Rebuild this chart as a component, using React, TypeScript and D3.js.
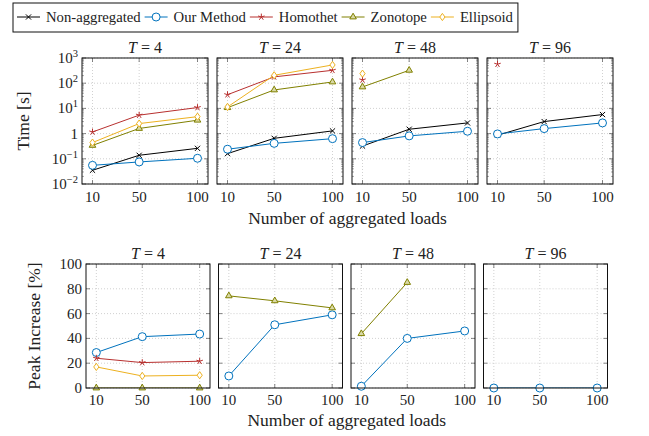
import React, { useEffect, useRef } from "react";
import * as d3 from "d3";

// x values (number of aggregated loads) and horizons
const loads = [10, 50, 100];
const horizons = [4, 24, 48, 96];

// computation time [s], one row per horizon T, null = no result
const timeNonAgg = [[0.035, 0.138, 0.26], [0.16, 0.65, 1.28], [0.32, 1.49, 2.65], [0.86, 3.0, 5.7]];
const timeOurs = [[0.055, 0.075, 0.105], [0.24, 0.41, 0.63], [0.44, 0.81, 1.24], [0.97, 1.58, 2.65]];
const timeHomothet = [[1.16, 5.4, 10.8], [35, 178, 325], [135, null, null], [565, null, null]];
const timeZonotope = [[0.34, 1.6, 3.4], [10.7, 54, 112], [71, 325, null], [null, null, null]];
const timeEllipsoid = [[0.44, 2.5, 4.7], [11.4, 206, 530], [240, null, null], [null, null, null]];

// peak increase [%]
const peakNonAgg = [[null, null, null], [null, null, null], [null, null, null], [null, null, null]];
const peakOurs = [[28.6, 41.4, 43.5], [9.7, 51, 59], [1.4, 40, 46], [0, 0, 0]];
const peakHomothet = [[24, 20.5, 21.6], [null, null, null], [null, null, null], [null, null, null]];
const peakZonotope = [[0, 0, 0], [74.3, 70.3, 64.6], [43.8, 85.1, null], [null, null, null]];
const peakEllipsoid = [[17, 9.7, 10.3], [null, null, null], [null, null, null], [null, null, null]];

const timeTickExp = [-2, -1, 0, 1, 2, 3];
const peakTicks = [0, 20, 40, 60, 80, 100];

const methods = ["Non-aggregated", "Our Method", "Homothet", "Zonotope", "Ellipsoid"];
const colors = ["#000000", "#0072BD", "#B8302F", "#808000", "#EDB120"];
const marks = ["cross", "circle", "star", "triangle", "diamond"];
const timeData = [timeNonAgg, timeOurs, timeHomothet, timeZonotope, timeEllipsoid];
const peakData = [peakNonAgg, peakOurs, peakHomothet, peakZonotope, peakEllipsoid];

const FONT = "Liberation Serif, Tinos, Times New Roman, Times, DejaVu Serif, Noto Serif, serif";
const GRID = "#bdbdbd";
const TICK = "#555";

type Sel = d3.Selection<SVGGElement, unknown, null, undefined>;

function drawMark(g: Sel, kind: string, cx: number, cy: number, color: string) {
  if (kind === "cross") {
    g.append("path").attr("d", `M${cx - 2.6},${cy - 2.6}L${cx + 2.6},${cy + 2.6}M${cx - 2.6},${cy + 2.6}L${cx + 2.6},${cy - 2.6}`)
      .attr("stroke", color).attr("stroke-width", 1);
  } else if (kind === "circle") {
    g.append("circle").attr("cx", cx).attr("cy", cy).attr("r", 4)
      .attr("fill", "white").attr("stroke", color).attr("stroke-width", 1);
  } else if (kind === "star") {
    let d = "";
    for (let i = 0; i < 5; i++) {
      const a = -Math.PI / 2 + (i * 2 * Math.PI) / 5;
      d += `M${cx},${cy}L${cx + 3.4 * Math.cos(a)},${cy + 3.4 * Math.sin(a)}`;
    }
    g.append("path").attr("d", d).attr("stroke", color).attr("stroke-width", 1);
  } else if (kind === "triangle") {
    const r = 3.8;
    g.append("path")
      .attr("d", `M${cx},${cy - r}L${cx + r * 0.866},${cy + r / 2}L${cx - r * 0.866},${cy + r / 2}Z`)
      .attr("fill", "#d9d9a6").attr("stroke", color).attr("stroke-width", 1);
  } else {
    g.append("path").attr("d", `M${cx},${cy - 3.6}L${cx + 2.6},${cy}L${cx},${cy + 3.6}L${cx - 2.6},${cy}Z`)
      .attr("fill", "white").attr("stroke", color).attr("stroke-width", 1);
  }
}

function addTitle(g: Sel, cx: number, y: number, t: number) {
  const txt = g.append("text").attr("x", cx).attr("y", y).attr("text-anchor", "middle")
    .attr("font-size", 16).attr("fill", "#222");
  txt.append("tspan").attr("font-style", "italic").text("T");
  txt.append("tspan").attr("dx", 4).text("=");
  txt.append("tspan").attr("dx", 4).text(String(t));
}

export default function App() {
  const ref = useRef<SVGSVGElement>(null);

  useEffect(() => {
    const svg = d3.select(ref.current);
    svg.selectAll("*").remove();
    const root = svg.append("g").attr("font-family", FONT) as unknown as Sel;

    const rows = [
      { kind: "time", left: 82, step: 135, w: 126, top: 58, bottom: 184, tickOff: 18, titleOff: 40, labelX: 29, data: timeData },
      { kind: "peak", left: 86, step: 132.5, w: 124, top: 264, bottom: 388, tickOff: 16.5, titleOff: 38, labelX: 40, data: peakData },
    ];

    rows.forEach((row, ri) => {
      const y = row.kind === "time"
        ? d3.scaleLog().domain([1e-2, 1e3]).range([row.bottom, row.top])
        : d3.scaleLinear().domain([0, 100]).range([row.bottom, row.top]);
      const majors = row.kind === "time" ? timeTickExp.map((e) => Math.pow(10, e)) : peakTicks;
      const minors: number[] = [];
      if (row.kind === "time") {
        for (let e = -2; e < 3; e++) for (let k = 2; k <= 9; k++) minors.push(k * Math.pow(10, e));
      }

      horizons.forEach((T, hi) => {
        const x0 = row.left + hi * row.step;
        const x = d3.scaleLinear().domain([1, 109]).range([x0, x0 + row.w]);
        const g = root.append("g");
        const clipId = `clip-${ri}-${hi}`;
        g.append("clipPath").attr("id", clipId).append("rect")
          .attr("x", x0).attr("y", row.top).attr("width", row.w).attr("height", row.bottom - row.top);

        // grid
        loads.forEach((v) => {
          g.append("line").attr("x1", x(v)).attr("x2", x(v)).attr("y1", row.top).attr("y2", row.bottom)
            .attr("stroke", GRID).attr("stroke-width", 0.7).attr("stroke-dasharray", "1,2");
        });
        majors.forEach((v) => {
          g.append("line").attr("x1", x0).attr("x2", x0 + row.w).attr("y1", y(v)).attr("y2", y(v))
            .attr("stroke", GRID).attr("stroke-width", 0.7).attr("stroke-dasharray", "1,2");
        });

        // ticks, inward on all sides
        loads.forEach((v) => {
          g.append("line").attr("x1", x(v)).attr("x2", x(v)).attr("y1", row.bottom).attr("y2", row.bottom - 4)
            .attr("stroke", TICK).attr("stroke-width", 0.7);
          g.append("line").attr("x1", x(v)).attr("x2", x(v)).attr("y1", row.top).attr("y2", row.top + 4)
            .attr("stroke", TICK).attr("stroke-width", 0.7);
        });
        majors.forEach((v) => {
          g.append("line").attr("x1", x0).attr("x2", x0 + 4).attr("y1", y(v)).attr("y2", y(v))
            .attr("stroke", TICK).attr("stroke-width", 0.7);
          g.append("line").attr("x1", x0 + row.w).attr("x2", x0 + row.w - 4).attr("y1", y(v)).attr("y2", y(v))
            .attr("stroke", TICK).attr("stroke-width", 0.7);
        });
        minors.forEach((v) => {
          g.append("line").attr("x1", x0).attr("x2", x0 + 2).attr("y1", y(v)).attr("y2", y(v))
            .attr("stroke", TICK).attr("stroke-width", 0.5);
          g.append("line").attr("x1", x0 + row.w).attr("x2", x0 + row.w - 2).attr("y1", y(v)).attr("y2", y(v))
            .attr("stroke", TICK).attr("stroke-width", 0.5);
        });

        // series
        row.data.forEach((tab, mi) => {
          const vals = tab[hi];
          const pts = loads.map((l, i) => ({ l, v: vals[i] }));
          const line = d3.line<{ l: number; v: number | null }>()
            .defined((d) => d.v !== null)
            .x((d) => x(d.l))
            .y((d) => y(d.v as number));
          g.append("path").attr("d", line(pts)).attr("fill", "none")
            .attr("stroke", colors[mi]).attr("stroke-width", 1).attr("clip-path", `url(#${clipId})`);
          pts.forEach((p) => {
            if (p.v !== null) drawMark(g, marks[mi], x(p.l), y(p.v), colors[mi]);
          });
        });

        // frame
        g.append("rect").attr("x", x0).attr("y", row.top).attr("width", row.w).attr("height", row.bottom - row.top)
          .attr("fill", "none").attr("stroke", "#111").attr("stroke-width", 1);

        // x tick labels
        loads.forEach((v) => {
          g.append("text").attr("x", x(v)).attr("y", row.bottom + row.tickOff).attr("text-anchor", "middle")
            .attr("font-size", 15).attr("fill", "#222").text(String(v));
        });

        addTitle(g, x0 + row.w / 2, row.top - 5, T);

        // y tick labels on the first panel
        if (hi === 0) {
          majors.forEach((v, i) => {
            const t = g.append("text").attr("x", x0 - 4).attr("y", y(v) + 5).attr("text-anchor", "end")
              .attr("font-size", 15).attr("fill", "#222");
            if (row.kind === "time") {
              const e = timeTickExp[i];
              if (e === 0) t.text("1");
              else {
                t.append("tspan").text("10");
                t.append("tspan").attr("dy", -6).attr("font-size", 10.5)
                  .text(e < 0 ? `\u2212${-e}` : String(e));
              }
            } else t.text(String(v));
          });
        }
      });

      // axis titles
      const midX = row.left + (3 * row.step + row.w) / 2;
      root.append("text").attr("x", midX).attr("y", row.bottom + row.titleOff).attr("text-anchor", "middle")
        .attr("font-size", 17.5).attr("fill", "#222")
        .text("Number of aggregated loads");
      const cy = (row.top + row.bottom) / 2;
      root.append("text").attr("transform", `translate(${row.labelX},${cy}) rotate(-90)`).attr("text-anchor", "middle")
        .attr("font-size", 17.5).attr("fill", "#222")
        .text(row.kind === "time" ? "Time [s]" : "Peak Increase [%]");
    });

    // legend
    const lg = root.append("g");
    let cx = 17;
    const ly = 17;
    methods.forEach((name, mi) => {
      lg.append("line").attr("x1", cx).attr("x2", cx + 23).attr("y1", ly).attr("y2", ly)
        .attr("stroke", colors[mi]).attr("stroke-width", 1);
      drawMark(lg as unknown as Sel, marks[mi], cx + 11.5, ly, colors[mi]);
      const t = lg.append("text").attr("x", cx + 29).attr("y", ly + 5)
        .attr("font-size", 14.7).attr("fill", "#222").text(name);
      const tw = (t.node() as SVGTextElement).getComputedTextLength();
      cx = cx + 29 + tw + 4;
    });
    lg.insert("rect", ":first-child").attr("x", 13).attr("y", 3).attr("width", cx - 13 + 1).attr("height", 29)
      .attr("fill", "white").attr("stroke", "#111").attr("stroke-width", 1);
  }, []);

  return (
    <svg
      ref={ref}
      width={649}
      height={436}
      style={{ position: "absolute", left: 0, top: 0, background: "#fff" }}
    />
  );
}
